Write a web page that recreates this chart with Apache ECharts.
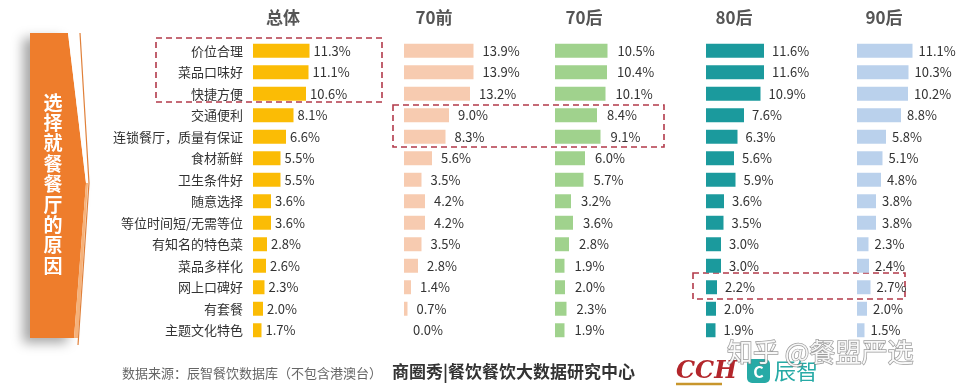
<!DOCTYPE html>
<html><head><meta charset="utf-8">
<script src="https://cdn.jsdelivr.net/npm/echarts@6/dist/echarts.min.js"></script>
<style>html,body{margin:0;padding:0;background:#fff}#c{width:960px;height:391px}</style>
</head><body><div id="c"></div>
<script>
const categories = ['价位合理','菜品口味好','快捷方便','交通便利','连锁餐厅，质量有保证','食材新鲜','卫生条件好','随意选择','等位时间短/无需等位','有知名的特色菜','菜品多样化','网上口碑好','有套餐','主题文化特色'];
const panelTitles = ['总体','70前','70后','80后','90后'];
const totalVals = [11.3,11.1,10.6,8.1,6.6,5.5,5.5,3.6,3.6,2.8,2.6,2.3,2.0,1.7];
const pre70Vals = [13.9,13.9,13.2,9.0,8.3,5.6,3.5,4.2,4.2,3.5,2.8,1.4,0.7,0.0];
const post70Vals = [10.5,10.4,10.1,8.4,9.1,6.0,5.7,3.2,3.6,2.8,1.9,2.0,2.3,1.9];
const post80Vals = [11.6,11.6,10.9,7.6,6.3,5.6,5.9,3.6,3.5,3.0,3.0,2.2,2.0,1.9];
const post90Vals = [11.1,10.3,10.2,8.8,5.8,5.1,4.8,3.8,3.8,2.3,2.4,2.7,2.0,1.5];
const sideTitle = '选择就餐餐厅的原因';
const sourceText = '数据来源：辰智餐饮数据库（不包含港澳台）';
const orgText = '商圈秀|餐饮餐饮大数据研究中心';
const watermark = '知乎 @餐盟严选';

const seriesVals = [totalVals, pre70Vals, post70Vals, post80Vals, post90Vals];
const colors = ['#fbbc05','#f7cbb0','#a0d28d','#1b9a9d','#bad1ec'];
const lefts = [253,404,555,706,857];
const labelGaps = [4,9,10,8,6];
const titleX = [283,434,584,734,884];
const FONT = '"Noto Sans CJK SC","Noto Sans",sans-serif';

const grids = [], xAxes = [], yAxes = [], series = [];
for (let i = 0; i < 5; i++) {
  grids.push({left: lefts[i], top: 40, width: 100, height: 301});
  xAxes.push({gridIndex: i, type: 'value', min: 0, max: 20, show: false});
  yAxes.push({gridIndex: i, type: 'category', data: categories, inverse: true,
    axisLine: {show: false}, axisTick: {show: false}, splitLine: {show: false},
    axisLabel: {show: i === 0, color: '#333', fontSize: 13, fontFamily: FONT, margin: 10}});
  series.push({type: 'bar', xAxisIndex: i, yAxisIndex: i, data: seriesVals[i],
    barCategoryGap: '35%', itemStyle: {color: colors[i]},
    label: {show: true, position: 'right', distance: labelGaps[i], color: '#333', fontSize: 13,
      fontFamily: FONT, formatter: p => p.value.toFixed(1) + '%'},
    silent: true, animation: false});
}

const graphic = [];
panelTitles.forEach((t, i) => graphic.push({type: 'text', x: titleX[i], y: 18,
  style: {text: t, fill: '#555', font: 'bold 17px ' + FONT, align: 'center', verticalAlign: 'middle'}}));

// side arrow banner
graphic.push({type: 'polygon', shape: {points: [[30,33],[68,33],[86,183],[74,338],[30,338]]},
  style: {fill: '#ee7d2c', shadowColor: 'rgba(0,0,0,0.35)', shadowBlur: 12, shadowOffsetX: -7, shadowOffsetY: 5}});
graphic.push({type: 'polygon', shape: {points: [[68,33],[79,33],[88,183],[86,183]]}, style: {fill: '#fff'}});
graphic.push({type: 'polygon', shape: {points: [[86,183],[88,183],[78,338],[74,338]]}, style: {fill: '#f6b27a'}});
graphic.push({type: 'polyline', shape: {points: [[80,33],[89,183],[78,345]]}, style: {stroke: '#e0803a', lineWidth: 1.2, fill: null}});
graphic.push({type: 'text', x: 53, y: 184,
  style: {text: sideTitle.split('').join('\n'), fill: '#fff', font: 'bold 19px ' + FONT,
    align: 'center', verticalAlign: 'middle', lineHeight: 20.4}});

// dashed boxes
const dash = {stroke: '#b23a4a', lineWidth: 1.6, lineDash: [6,4], fill: null};
graphic.push({type: 'rect', shape: {x: 156, y: 38, width: 226, height: 64}, style: dash});
graphic.push({type: 'rect', shape: {x: 393, y: 105, width: 271, height: 42}, style: dash});
graphic.push({type: 'rect', shape: {x: 693, y: 273, width: 212, height: 26}, style: dash});

// footer
graphic.push({type: 'text', x: 122, y: 373, style: {text: sourceText, fill: '#666', font: '13px ' + FONT, verticalAlign: 'middle'}});
graphic.push({type: 'text', x: 392, y: 372, style: {text: orgText, fill: '#333', font: 'bold 17px ' + FONT, verticalAlign: 'middle'}});
graphic.push({type: 'text', x: 676, y: 372, style: {text: 'CCH', fill: '#b3262b', font: 'italic bold 24px "DejaVu Serif",serif', verticalAlign: 'middle'}});
graphic.push({type: 'line', shape: {x1: 676, y1: 384, x2: 722, y2: 384}, style: {stroke: '#c8962c', lineWidth: 2.5}});
graphic.push({type: 'rect', shape: {x: 747, y: 359, width: 23, height: 24, r: 5}, style: {fill: '#27aaa6'}});
graphic.push({type: 'text', x: 758.5, y: 371.5, style: {text: 'C', fill: '#fff', font: 'bold 16px ' + FONT, align: 'center', verticalAlign: 'middle'}});
graphic.push({type: 'text', x: 774, y: 371, style: {text: '辰智', fill: '#27aaa6', font: '22px ' + FONT, verticalAlign: 'middle'}});
graphic.push({type: 'text', x: 727, y: 352, style: {text: watermark, fill: 'rgba(255,255,255,0.9)', stroke: 'rgba(120,120,120,0.75)', lineWidth: 1.4, font: '26px ' + FONT, verticalAlign: 'middle'}});

const chart = echarts.init(document.getElementById('c'), null, {renderer: 'canvas'});
chart.setOption({animation: false, grid: grids, xAxis: xAxes, yAxis: yAxes, series: series, graphic: graphic});
</script></body></html>
